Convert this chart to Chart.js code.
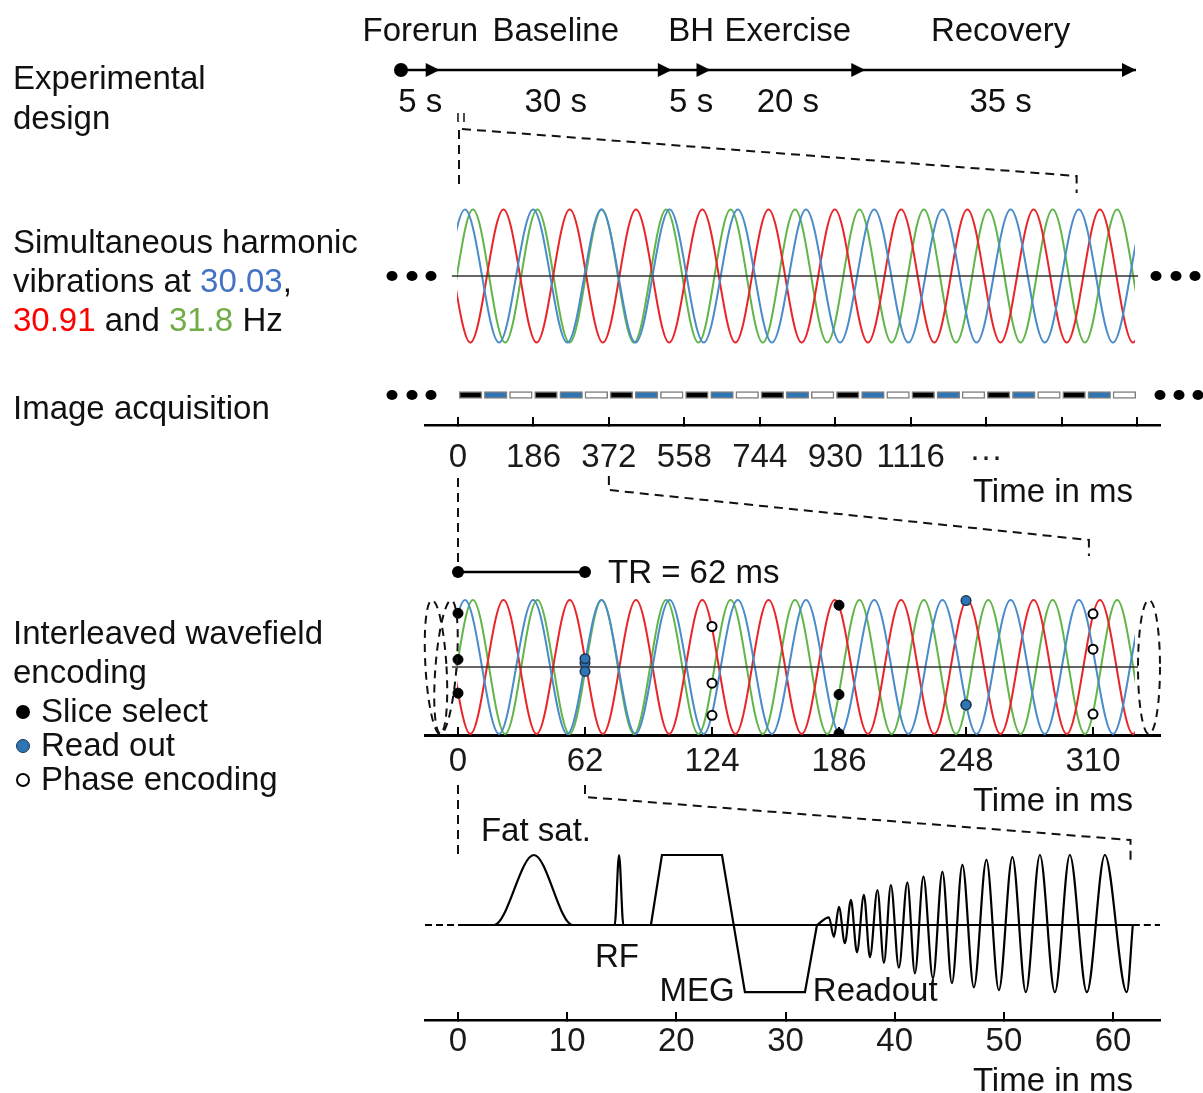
<!DOCTYPE html>
<html>
<head>
<meta charset="utf-8">
<script src="https://cdn.jsdelivr.net/npm/chart.js@4.4.1/dist/chart.umd.min.js"></script>
<style>
  body { margin: 0; background: #fff; }
  #page { position: relative; width: 1203px; height: 1093px; overflow: hidden;
          font-family: "Liberation Sans", Arial, sans-serif; font-size: 33px; color: #111; }
  #page canvas { position: absolute; left: 0; }
  .lbl { position: absolute; left: 13px; line-height: 39px; white-space: nowrap; }
  .unit { position: absolute; right: 70px; line-height: 40px; white-space: nowrap; }
  .bullet { display: inline-block; width: 14px; height: 14px; border-radius: 50%;
            box-sizing: border-box; margin: 0 11px 0 3px; vertical-align: 3px; }
</style>
</head>
<body>
<div id="page">
  <canvas id="design" width="1203" height="200" style="top:0px"></canvas>
  <canvas id="vib" width="1203" height="250" style="top:110px"></canvas>
  <canvas id="acq" width="1203" height="130" style="top:355px"></canvas>
  <canvas id="wave" width="1203" height="315" style="top:470px"></canvas>
  <canvas id="seq" width="1203" height="313" style="top:780px"></canvas>

  <div class="lbl" style="top:58px;line-height:40px">Experimental<br>design</div>
  <div class="lbl" style="top:222px">Simultaneous harmonic<br>vibrations at <span style="color:#4472c4">30.03</span>,<br><span style="color:#ff0000">30.91</span> and <span style="color:#70ad47">31.8</span> Hz</div>
  <div class="lbl" style="top:388px">Image acquisition</div>
  <div class="lbl" style="top:613px">Interleaved wavefield<br>encoding</div>
  <div class="lbl" style="top:694px;line-height:34px">
    <span class="bullet" style="background:#000"></span>Slice select<br>
    <span class="bullet" style="background:#2e75b6;border:1.5px solid #1d3550"></span>Read out<br>
    <span class="bullet" style="background:#fff;border:2px solid #000"></span>Phase encoding
  </div>
  <div class="unit" style="top:471px">Time in ms</div>
  <div class="unit" style="top:780px">Time in ms</div>
  <div class="unit" style="top:1060px">Time in ms</div>
</div>

<script>
// protocol phases (s)
const phaseNames = ['Forerun', 'Baseline', 'BH', 'Exercise', 'Recovery'];
const phaseDurations = [5, 30, 5, 20, 35];

// harmonic vibrations: frequency (Hz) and time of first crest (ms)
const vibFreqs = [30.03, 30.91, 31.8];
const vibFirstCrest = [3.4, 22.2, 7.3];
const vibColors = ['#4a8bc9', '#e8262a', '#62b54a'];

// acquisition
const TR = 62;
const acqShots = 27;
const encodings = ['Slice select', 'Read out', 'Phase encoding'];
const acqTicks = [0, 186, 372, 558, 744, 930, 1116, 1302, 1488, 1674];
const acqTickLabels = ['0', '186', '372', '558', '744', '930', '1116', '\u00b7\u00b7\u00b7', '', ''];
const waveTicks = [0, 62, 124, 186, 248, 310];
const seqTicks = [0, 10, 20, 30, 40, 50, 60];

// pulse sequence, time (ms) vs relative amplitude
const fatSat = [[2.0, 0], [3.3, 0], [6.95, 1], [10.5, 0], [11.5, 0]];
const rfPulse = [[13.8, 0], [14.35, 0], [14.75, 1], [15.15, 0], [15.6, 0]];
const megGradient = [[17.67, 0], [18.68, 1], [24.18, 1], [26.28, -0.96], [31.78, -0.96], [32.88, 0]];
const readStart = 32.88;
const readEnd = 61.81;
const readPeakT = [33.97, 34.89, 35.99, 37.18, 38.42, 39.65, 41.16, 42.63, 44.37, 46.20, 48.40, 50.78, 53.30, 56.04, 59.25];
const readPeakA = [0.11, 0.26, 0.36, 0.43, 0.50, 0.57, 0.61, 0.69, 0.76, 0.86, 0.93, 0.97, 1.0, 1.0, 1.0];
const readTroughT = [34.43, 35.44, 36.54, 37.73, 39.01, 40.38, 41.85, 43.50, 45.24, 47.25, 49.54, 52.01, 54.67, 57.60, 61.26];
const readTroughA = [-0.17, -0.26, -0.39, -0.46, -0.54, -0.61, -0.69, -0.76, -0.83, -0.89, -0.93, -0.96, -0.96, -0.96, -0.96];

const FONT = '33px "Liberation Sans", Arial, sans-serif';
Chart.defaults.font.family = '"Liberation Sans", Arial, sans-serif';
Chart.defaults.font.size = 33;
Chart.defaults.color = '#111';
Chart.defaults.animation = false;
Chart.defaults.responsive = false;
Chart.defaults.plugins.legend.display = false;
Chart.defaults.plugins.tooltip.enabled = false;

const pts = arr => arr.map(([x, y]) => ({ x, y }));

// crests and troughs of a harmonic between two times
function crests(freq, first, from, to) {
  const half = 500 / freq;
  const out = [];
  for (let k = Math.floor((from - first) / half); first + k * half <= to; k++) {
    out.push({ x: first + k * half, y: Math.abs(k) % 2 === 0 ? 1 : -1 });
  }
  return out;
}
const vibValue = (i, t) => Math.cos(2 * Math.PI * vibFreqs[i] * (t - vibFirstCrest[i]) / 1000);

function dashed(ctx, path, dash) {
  ctx.save();
  ctx.setLineDash(dash || [9, 6]);
  ctx.lineWidth = 2;
  ctx.strokeStyle = '#111';
  ctx.beginPath();
  path.forEach(([x, y], i) => (i ? ctx.lineTo(x, y) : ctx.moveTo(x, y)));
  ctx.stroke();
  ctx.restore();
}
function dots(ctx, xs, y) {
  ctx.save();
  ctx.fillStyle = '#000';
  xs.forEach(x => { ctx.beginPath(); ctx.ellipse(x, y, 5.5, 5, 0, 0, Math.PI * 2); ctx.fill(); });
  ctx.restore();
}
const timeAxis = (min, max, ticks, padding, height, width) => ({
  type: 'linear', min, max,
  afterBuildTicks: s => { s.ticks = ticks.map(v => ({ value: v })); },
  afterFit: s => { s.height = height; },
  ticks: { padding, maxRotation: 0, autoSkip: false, color: '#1a1a1a' },
  grid: { display: true, drawOnChartArea: false, drawTicks: true, tickLength: -8, color: '#000', lineWidth: 2 },
  border: { display: true, color: '#000', width }
});

// arrow head whose tip sits on the point
const arrowHead = document.createElement('canvas');
arrowHead.width = 32; arrowHead.height = 16;
(c => { c.fillStyle = '#000'; c.beginPath(); c.moveTo(2, 1); c.lineTo(16, 8); c.lineTo(2, 15); c.closePath(); c.fill(); })(arrowHead.getContext('2d'));

// ---- experimental design timeline
const bounds = phaseDurations.reduce((a, d) => a.concat(a[a.length - 1] + d), [0]);
const design = new Chart(document.getElementById('design'), {
  type: 'line',
  data: {
    datasets: [{
      data: bounds.map(t => ({ x: t, y: 0 })),
      borderColor: '#000', borderWidth: 2.5, clip: false,
      pointStyle: bounds.map((t, i) => (i ? arrowHead : 'circle')),
      pointRadius: 7, pointBackgroundColor: '#000', pointBorderWidth: 0
    }]
  },
  options: {
    layout: { padding: { left: 401, right: 67, top: 40, bottom: 100 } },
    scales: { x: { type: 'linear', display: false, min: 0, max: bounds[bounds.length - 1] },
              y: { display: false, min: -1, max: 1 } }
  },
  plugins: [{
    id: 'phaseText',
    afterDraw(chart) {
      const { ctx, scales: { x, y } } = chart;
      const y0 = y.getPixelForValue(0);
      ctx.save();
      ctx.font = FONT; ctx.fillStyle = '#111'; ctx.textAlign = 'center'; ctx.textBaseline = 'middle';
      phaseNames.forEach((name, i) => {
        const cx = x.getPixelForValue((bounds[i] + bounds[i + 1]) / 2);
        ctx.fillText(name, cx, y0 - 38);
        ctx.fillText(phaseDurations[i] + ' s', cx, y0 + 33);
      });
      ctx.restore();
    }
  }]
});

// ---- simultaneous vibrations
const waveX = { type: 'linear', min: -16.11, max: 342.7 };
const waveClip = { left: -32, right: -25, top: 5, bottom: 5 };
const waveSets = () => vibFreqs.map((f, i) => ({
  data: crests(f, vibFirstCrest[i], -60, 400),
  borderColor: vibColors[i], borderWidth: 2, pointRadius: 0, order: 2,
  cubicInterpolationMode: 'monotone', clip: waveClip
}));
const centreLine = { data: [{ x: -3, y: 0 }, { x: 332, y: 0 }], borderColor: '#333', borderWidth: 1.3, pointRadius: 0, order: 1 };

const vib = new Chart(document.getElementById('vib'), {
  type: 'line',
  data: { datasets: [centreLine].concat(waveSets()) },
  options: {
    layout: { padding: { left: 425, right: 43, top: 90, bottom: 8 } },
    scales: { x: Object.assign({ display: false }, waveX), y: { display: false, min: -1.143, max: 1.143 } }
  },
  plugins: [{
    id: 'vibDeco',
    afterDraw(chart) {
      const { ctx, scales: { x, y } } = chart;
      const yc = y.getPixelForValue(0);
      dots(ctx, [392, 412, 431], yc);
      dots(ctx, [1156, 1176, 1195], yc);
      const x0 = x.getPixelForValue(0) + 1, x1 = x.getPixelForValue(302);
      ctx.save(); ctx.lineWidth = 1.5; ctx.strokeStyle = '#111';
      ctx.beginPath(); ctx.moveTo(x0 - 1, 3); ctx.lineTo(x0 - 1, 12); ctx.moveTo(x0 + 5, 3); ctx.lineTo(x0 + 5, 12); ctx.stroke();
      ctx.restore();
      dashed(ctx, [[x0, 20], [x0, 77]]);
      dashed(ctx, [[x0 + 3, 19], [x1, 66], [x1, 83]]);
    }
  }]
});

// ---- image acquisition
const encColors = ['#000000', '#2e75b6', '#ffffff'];
const shots = Array.from({ length: acqShots }, (_, k) => k);
const acq = new Chart(document.getElementById('acq'), {
  type: 'bar',
  data: {
    labels: ['acq'],
    datasets: encodings.map((name, j) => ({
      label: name,
      data: shots.filter(k => k % 3 === j).map(k => ({ x: [k * TR + 3, (k + 1) * TR - 3], y: 'acq' })),
      backgroundColor: encColors[j], borderColor: '#7f7f7f', borderWidth: 1.5,
      borderSkipped: false, barThickness: 7, grouped: false
    }))
  },
  options: {
    indexAxis: 'y',
    layout: { padding: { left: 425, right: 43, top: 10, bottom: 0 } },
    scales: {
      x: timeAxis(-81.4, 1730.8, acqTicks, 21, 60, 2.5),
      y: { type: 'category', display: false }
    }
  },
  plugins: [{
    id: 'acqDeco',
    afterDraw(chart) {
      const yc = (chart.chartArea.top + chart.chartArea.bottom) / 2;
      dots(chart.ctx, [392, 412, 431], yc);
      dots(chart.ctx, [1160, 1179, 1198], yc);
    }
  }]
});
acq.options.scales.x.ticks.callback = (v, i) => acqTickLabels[i];
acq.update();

// ---- interleaved wavefield encoding
const encStyle = [
  { bg: '#000', border: '#000', w: 1, r: 5 },
  { bg: '#2e75b6', border: '#1d3550', w: 1.5, r: 4.8 },
  { bg: '#fff', border: '#000', w: 2, r: 4.5 }
];
const markerSets = encodings.map((name, j) => ({
  label: name, showLine: false, order: 0,
  data: waveTicks.filter((t, k) => k % 3 === j)
    .flatMap(t => vibFreqs.map((f, i) => ({ x: t, y: vibValue(i, t) }))),
  pointRadius: encStyle[j].r, pointBackgroundColor: encStyle[j].bg,
  pointBorderColor: encStyle[j].border, pointBorderWidth: encStyle[j].w
}));
const trLevel = 1.418;
const wave = new Chart(document.getElementById('wave'), {
  type: 'line',
  data: {
    datasets: [centreLine].concat(waveSets(), markerSets, [{
      data: [{ x: 0, y: trLevel }, { x: TR, y: trLevel }], order: 0,
      borderColor: '#000', borderWidth: 2.5, pointRadius: 6, pointBackgroundColor: '#000', pointBorderWidth: 0
    }])
  },
  options: {
    layout: { padding: { left: 425, right: 43, top: 85, bottom: 0 } },
    scales: { x: timeAxis(waveX.min, waveX.max, waveTicks, 15, 50, 3), y: { display: false, min: -1.015, max: 1.672 } }
  },
  plugins: [{
    id: 'waveDeco',
    afterDraw(chart) {
      const { ctx, scales: { x, y } } = chart;
      const T = 470;
      // zoom lines from the acquisition axis
      const xa = acq.scales.x.getPixelForValue(0), xb = acq.scales.x.getPixelForValue(372);
      const xe = x.getPixelForValue(308);
      dashed(ctx, [[xa, 478 - T], [xa, 565 - T]]);
      dashed(ctx, [[xb, 476 - T], [xb, 490 - T], [xe, 540 - T], [xe, 556 - T]]);
      // continuation ellipses
      const yc = y.getPixelForValue(0), ry = yc - y.getPixelForValue(1);
      ctx.save();
      ctx.setLineDash([8, 6]); ctx.lineWidth = 2; ctx.strokeStyle = '#111';
      [[436, -0.06], [446, 0.08]].forEach(([cx, rot]) => {
        ctx.beginPath(); ctx.ellipse(cx, yc, 10.5, ry, rot, 0, Math.PI * 2); ctx.stroke();
      });
      ctx.beginPath(); ctx.ellipse(1149, yc, 11, ry, 0, 0, Math.PI * 2); ctx.stroke();
      ctx.restore();
      ctx.save();
      ctx.font = FONT; ctx.fillStyle = '#111'; ctx.textBaseline = 'middle'; ctx.textAlign = 'left';
      ctx.fillText('TR = ' + TR + ' ms', x.getPixelForValue(TR) + 23, y.getPixelForValue(trLevel) + 2);
      ctx.restore();
    }
  }]
});

// ---- pulse sequence
const readout = [{ x: readStart, y: 0 }];
readPeakT.forEach((t, i) => {
  readout.push({ x: t, y: readPeakA[i] });
  readout.push({ x: readTroughT[i], y: readTroughA[i] });
});
readout.push({ x: readEnd, y: 0 });
const seqLine = { borderColor: '#000', borderWidth: 2.2, pointRadius: 0 };
const seq = new Chart(document.getElementById('seq'), {
  type: 'line',
  data: {
    datasets: [
      Object.assign({ data: [{ x: 0, y: 0 }, { x: readEnd, y: 0 }] }, seqLine),
      Object.assign({ data: [{ x: -3.02, y: 0 }, { x: 0, y: 0 }, { x: 30, y: null }, { x: readEnd, y: 0 }, { x: 64.3, y: 0 }],
        borderDash: [7, 4], spanGaps: false }, seqLine),
      Object.assign({ data: pts(fatSat), cubicInterpolationMode: 'monotone' }, seqLine),
      Object.assign({ data: pts(rfPulse), cubicInterpolationMode: 'monotone' }, seqLine),
      Object.assign({ data: pts(megGradient) }, seqLine),
      Object.assign({ data: readout, cubicInterpolationMode: 'monotone' }, seqLine)
    ]
  },
  options: {
    layout: { padding: { left: 425, right: 43, top: 20, bottom: 0 } },
    scales: { x: timeAxis(-3.023, 64.3, seqTicks, 10, 73, 2.5), y: { display: false, min: -1.357, max: 1.786 } }
  },
  plugins: [{
    id: 'seqDeco',
    afterDraw(chart) {
      const { ctx, scales: { x, y } } = chart;
      const T = 780;
      const xa = wave.scales.x.getPixelForValue(0), xb = wave.scales.x.getPixelForValue(TR);
      const xe = x.getPixelForValue(61.6);
      dashed(ctx, [[xa, 785 - T], [xa, 855 - T]]);
      dashed(ctx, [[xb, 785 - T], [xb, 797 - T], [xe, 840 - T], [xe, 862 - T]]);
      ctx.save();
      ctx.font = FONT; ctx.fillStyle = '#111'; ctx.textBaseline = 'middle';
      [['Fat sat.', 2.1, 1.33, 'left'], ['RF', 14.56, -0.47, 'center'],
       ['MEG', 21.9, -0.96, 'center'], ['Readout', 32.5, -0.96, 'left']].forEach(([s, t, v, al]) => {
        ctx.textAlign = al;
        ctx.fillText(s, x.getPixelForValue(t), y.getPixelForValue(v));
      });
      ctx.restore();
    }
  }]
});
</script>
</body>
</html>
